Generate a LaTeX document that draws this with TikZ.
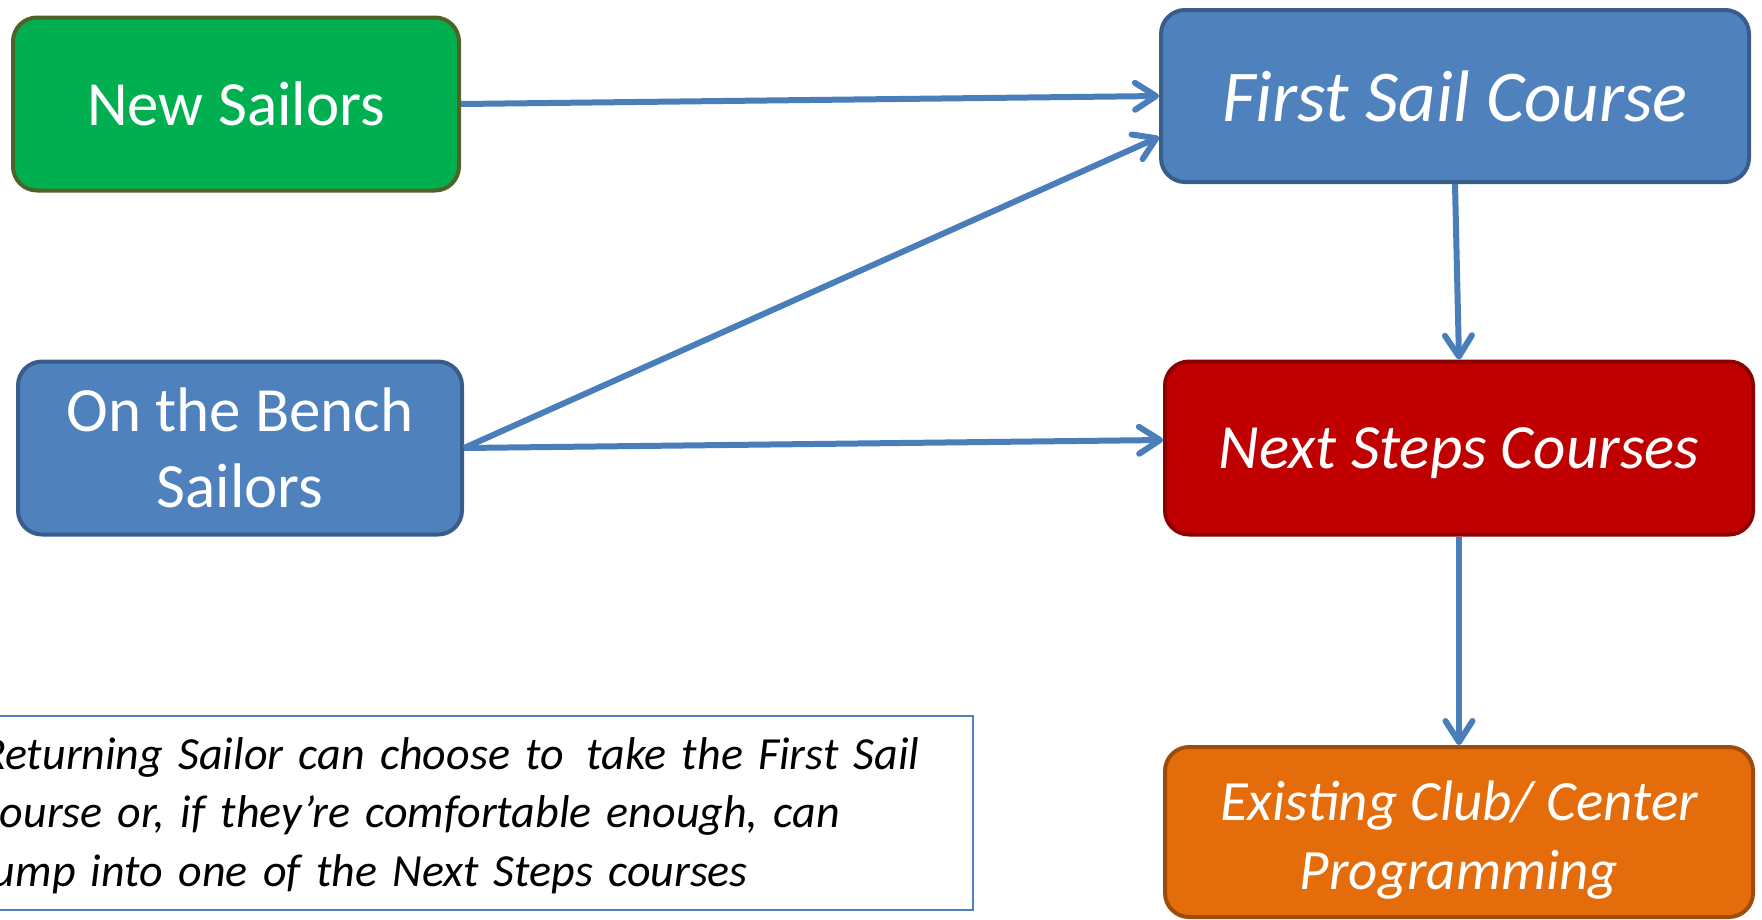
\documentclass[tikz,border=0pt]{standalone}
\usepackage{fontspec}
\setmainfont{Carlito}
\usetikzlibrary{arrows.meta}
\definecolor{newfill}{HTML}{00B050}
\definecolor{newline}{HTML}{4F6228}
\definecolor{bluefill}{HTML}{4F81BD}
\definecolor{blueline}{HTML}{385D8A}
\definecolor{redfill}{HTML}{C00000}
\definecolor{redline}{HTML}{8C0000}
\definecolor{orangefill}{HTML}{E46C0A}
\definecolor{orangeline}{HTML}{9C4C0C}
\definecolor{flowblue}{HTML}{4A7EBB}
\tikzset{
  box/.style={draw, line width=4pt, rounded corners=24pt, text=white, align=center, inner sep=0pt},
  flow/.style={draw=flowblue, line width=6pt, ->},
}
\begin{document}
\begin{tikzpicture}[x=1pt, y=-1pt, >={Straight Barb[length=21pt,width=27pt,round]}]
\useasboundingbox (0,0) rectangle (1762,919);
\node[box, fill=newfill, draw=newline, minimum width=446pt, minimum height=173pt, font=\fontsize{63}{77}\selectfont, text height=54pt, text depth=12pt] (new) at (236,104) {New Sailors};
\node[box, fill=bluefill, draw=blueline, minimum width=444pt, minimum height=173pt, font=\fontsize{63}{76}\selectfont] (bench) at (240,448) {On the Bench\\Sailors};
\node[box, fill=bluefill, draw=blueline, minimum width=588pt, minimum height=172pt, font=\fontsize{73}{88}\itshape, text height=64pt, text depth=14pt] (first) at (1455,96) {First Sail Course};
\node[box, fill=redfill, draw=redline, minimum width=588pt, minimum height=173pt, font=\fontsize{63}{76}\itshape, text height=53pt, text depth=12pt] (next) at (1459,448) {Next Steps Courses};
\node[box, fill=orangefill, draw=orangeline, minimum width=588pt, minimum height=170pt, font=\fontsize{57}{69}\itshape] (club) at (1459,832) {\rule{0pt}{55pt}Existing Club/ Center\\Programming};
\node[draw=bluefill, line width=2pt, fill=white, minimum width=1000pt, minimum height=194pt, inner xsep=8pt, text width=984pt, align=left, font=\fontsize{46}{58.5}\itshape] (note) at (473,812.5)
  {\rule{0pt}{38pt}Returning Sailor can choose to\, take the First Sail\\course or, if they’re comfortable enough, can\\jump into one of the Next Steps courses};

\draw[flow] (new.east) -- (first.west);
\draw[flow] (bench.east) -- ([yshift=-41pt]first.west);
\draw[flow] (bench.east) -- ([yshift=8pt]next.west);
\draw[flow] (first.south) -- (next.north);
\draw[flow] (next.south) -- (club.north);
\end{tikzpicture}
\end{document}
